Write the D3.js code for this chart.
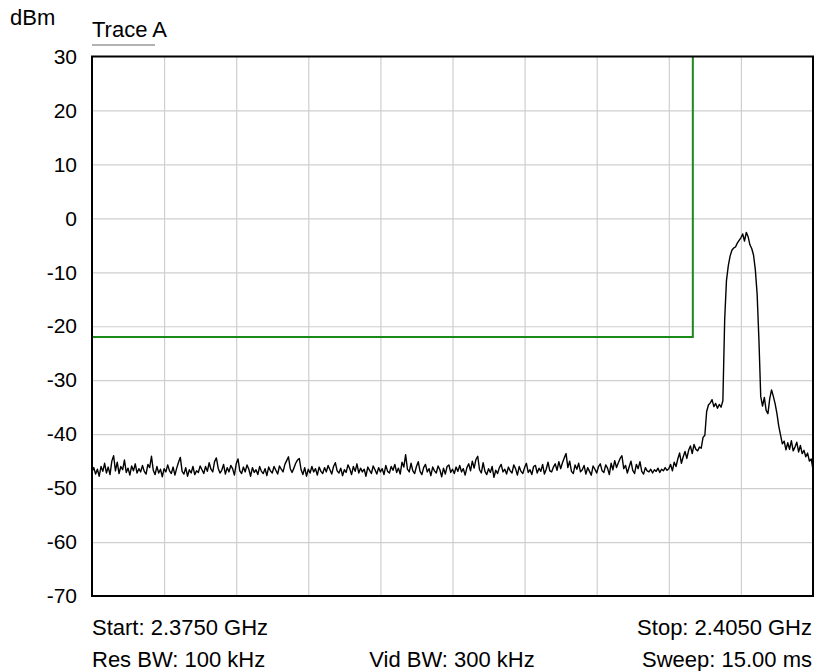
<!DOCTYPE html>
<html>
<head>
<meta charset="utf-8">
<script src="https://cdn.jsdelivr.net/npm/d3@7"></script>
<style>
  html, body { margin: 0; padding: 0; background: #fff; }
  svg { display: block; }
  text { font-family: "Liberation Sans", Arial, sans-serif; fill: #000; }
</style>
</head>
<body>
<svg id="chart" width="815" height="671"></svg>
<script>
// ---------- data ----------
const startGHz = 2.375;
const stopGHz = 2.405;
const yTicks = [30, 20, 10, 0, -10, -20, -30, -40, -50, -60, -70];
const xGridCount = 10;
const traceDbm = [
-47.0,-46.2,-47.4,-46.5,-47.8,-46.0,-46.9,-45.4,-47.2,-46.1,-47.5,-45.0,-44.0,-46.8,-45.2,-47.3,-46.0,-46.6,-44.8,-47.1,
-46.3,-47.6,-45.9,-46.8,-45.5,-47.2,-46.4,-47.0,-45.8,-46.9,-47.4,-45.6,-46.2,-44.1,-46.7,-47.5,-46.0,-47.2,-46.5,-47.9,
-46.4,-47.0,-45.7,-46.8,-47.3,-46.1,-47.6,-46.3,-45.2,-44.3,-46.9,-47.4,-46.2,-47.8,-46.6,-47.2,-46.0,-47.5,-46.8,-47.1,
-45.9,-46.6,-47.3,-46.0,-46.9,-45.3,-46.5,-47.0,-45.1,-44.4,-46.3,-47.2,-46.7,-45.6,-47.4,-46.2,-47.0,-45.8,-46.4,-47.6,
-45.5,-44.6,-46.8,-47.3,-46.1,-47.0,-45.7,-46.5,-47.8,-46.2,-47.1,-46.6,-47.5,-46.0,-46.9,-47.3,-46.4,-47.7,-46.1,-46.8,
-47.2,-46.0,-46.7,-47.4,-45.9,-46.5,-47.0,-45.6,-44.9,-44.2,-46.4,-47.1,-46.3,-45.4,-44.8,-44.5,-46.6,-47.5,-46.2,-47.8,
-46.5,-47.2,-46.0,-47.0,-46.4,-47.6,-46.1,-46.9,-47.3,-46.2,-47.0,-45.8,-46.6,-47.4,-46.0,-45.3,-46.8,-47.2,-46.3,-47.7,
-46.6,-47.1,-45.7,-46.4,-47.5,-46.0,-46.9,-45.5,-47.2,-46.3,-47.0,-46.5,-47.8,-46.1,-46.7,-47.3,-45.9,-46.6,-47.4,-46.2,
-47.0,-46.4,-47.5,-45.8,-46.9,-47.2,-46.0,-46.7,-45.6,-47.1,-46.3,-47.4,-45.2,-46.1,-43.8,-46.5,-47.0,-45.4,-46.8,-47.3,
-46.0,-45.1,-46.9,-47.5,-46.2,-45.6,-47.0,-46.4,-47.7,-46.1,-46.8,-47.2,-45.9,-46.6,-47.9,-46.3,-47.4,-46.0,-45.7,-47.1,
-46.5,-47.3,-46.1,-46.9,-45.8,-47.0,-46.4,-47.6,-46.2,-45.5,-46.8,-45.0,-46.3,-44.7,-44.1,-46.6,-47.2,-45.3,-46.9,-47.5,
-46.4,-47.1,-46.0,-48.0,-46.7,-47.3,-46.2,-45.6,-47.0,-46.5,-47.4,-46.1,-46.8,-47.2,-45.7,-46.4,-47.6,-46.0,-46.9,-47.3,
-46.2,-45.4,-47.1,-46.6,-47.5,-46.0,-45.8,-47.2,-46.3,-46.9,-45.6,-47.4,-46.5,-45.2,-46.8,-47.0,-46.1,-45.5,-46.7,-45.1,
-46.4,-45.3,-44.4,-43.6,-46.2,-45.0,-46.9,-47.3,-45.7,-46.5,-45.4,-47.0,-46.6,-45.8,-47.4,-46.2,-46.9,-47.6,-45.9,-46.5,
-47.2,-46.0,-45.5,-46.8,-47.1,-45.7,-46.3,-47.5,-45.4,-46.6,-44.9,-46.2,-45.3,-44.5,-44.0,-46.4,-45.8,-47.2,-46.1,-45.0,
-46.7,-47.3,-45.6,-46.4,-45.1,-46.9,-47.4,-46.2,-46.8,-47.0,-46.5,-47.2,-46.6,-46.9,-46.3,-47.1,-46.5,-46.8,-46.2,-46.7,
-46.4,-45.6,-46.8,-45.2,-46.0,-44.6,-43.5,-45.4,-44.2,-43.2,-44.5,-43.0,-42.2,-43.6,-41.9,-42.8,-43.1,-42.4,-42.6,-40.6,
-40.2,-35.8,-34.6,-34.2,-33.6,-34.9,-34.3,-35.2,-34.5,-35.0,-33.8,-18.8,-11.5,-8.8,-7.0,-5.9,-5.5,-5.3,-4.6,-4.1,
-3.6,-2.9,-4.2,-2.6,-3.4,-4.9,-5.6,-6.8,-9.5,-14.0,-22.5,-33.0,-34.8,-33.2,-35.6,-36.2,-33.4,-31.8,-33.0,-34.4,
-36.2,-38.5,-40.2,-41.8,-41.3,-42.9,-41.6,-42.8,-41.2,-43.1,-42.4,-41.5,-43.3,-42.1,-43.6,-43.0,-44.2,-43.5,-45.0,-44.6,-46.6
];
const limitFreqGHz = [2.375, 2.400, 2.400];
const limitDbm = [-22, -22, 30];
const unitLabel = "dBm";
const traceLabel = "Trace A";
const startLabel = "Start: 2.3750 GHz";
const stopLabel = "Stop: 2.4050 GHz";
const resLabel = "Res BW: 100 kHz";
const vidLabel = "Vid BW: 300 kHz";
const sweepLabel = "Sweep: 15.00 ms";

// ---------- layout ----------
const svg = d3.select("#chart");
const L = 92, R = 813, T = 56.5, B = 596;
const FS = 22;

const x = d3.scaleLinear().domain([startGHz, stopGHz]).range([L, R]);
const y = d3.scaleLinear().domain([-70, 30]).range([B, T]);

const step = (stopGHz - startGHz) / (traceDbm.length - 1);
const trace = traceDbm.map((v, i) => ({ f: startGHz + i * step, v }));
const limit = limitFreqGHz.map((f, i) => ({ f, v: limitDbm[i] }));

// grid
const xGridVals = d3.range(1, xGridCount).map(k => startGHz + k * (stopGHz - startGHz) / xGridCount);
svg.append("g")
  .attr("transform", `translate(0,${B})`)
  .call(d3.axisBottom(x).tickValues(xGridVals).tickSize(-(B - T)).tickFormat(""))
  .call(g => g.select(".domain").remove())
  .call(g => g.selectAll("line").attr("stroke", "#cfcfcf").attr("stroke-width", 1.2));

svg.append("g")
  .attr("transform", `translate(${L},0)`)
  .call(d3.axisLeft(y).tickValues(yTicks.slice(1, -1)).tickSize(-(R - L)).tickFormat(""))
  .call(g => g.select(".domain").remove())
  .call(g => g.selectAll("line").attr("stroke", "#cfcfcf").attr("stroke-width", 1.2));

// y tick labels
const yAxis = svg.append("g")
  .attr("transform", `translate(${L},0)`)
  .call(d3.axisLeft(y).tickValues(yTicks).tickSize(0).tickPadding(15).tickFormat(d => String(d)));
yAxis.select(".domain").remove();
yAxis.selectAll("text")
  .attr("font-family", '"Liberation Sans", Arial, sans-serif')
  .attr("font-size", 21)
  .attr("fill", "#000");

// limit line
svg.append("path")
  .datum(limit)
  .attr("fill", "none")
  .attr("stroke", "#1a8a1a")
  .attr("stroke-width", 2)
  .attr("d", d3.line().x(d => x(d.f)).y(d => y(d.v)));

// trace
svg.append("path")
  .datum(trace)
  .attr("fill", "none")
  .attr("stroke", "#000")
  .attr("stroke-width", 1.4)
  .attr("stroke-linejoin", "round")
  .attr("d", d3.line().x(d => x(d.f)).y(d => y(d.v)));

// frame
svg.append("rect")
  .attr("x", L).attr("y", T)
  .attr("width", R - L).attr("height", B - T)
  .attr("fill", "none")
  .attr("stroke", "#000")
  .attr("stroke-width", 2);

// labels
svg.append("text").attr("x", 10).attr("y", 25).attr("font-size", FS).text(unitLabel);
svg.append("text").attr("x", 92).attr("y", 37).attr("font-size", FS).text(traceLabel);
svg.append("line").attr("x1", 92).attr("x2", 155).attr("y1", 45).attr("y2", 45)
  .attr("stroke", "#666").attr("stroke-width", 1.2);

svg.append("text").attr("x", 92).attr("y", 635).attr("font-size", FS).text(startLabel);
svg.append("text").attr("x", 812).attr("y", 635).attr("font-size", FS).attr("text-anchor", "end").text(stopLabel);
svg.append("text").attr("x", 92).attr("y", 667).attr("font-size", FS).text(resLabel);
svg.append("text").attr("x", 452).attr("y", 667).attr("font-size", FS).attr("text-anchor", "middle").text(vidLabel);
svg.append("text").attr("x", 812).attr("y", 667).attr("font-size", FS).attr("text-anchor", "end").text(sweepLabel);
</script>
</body>
</html>
